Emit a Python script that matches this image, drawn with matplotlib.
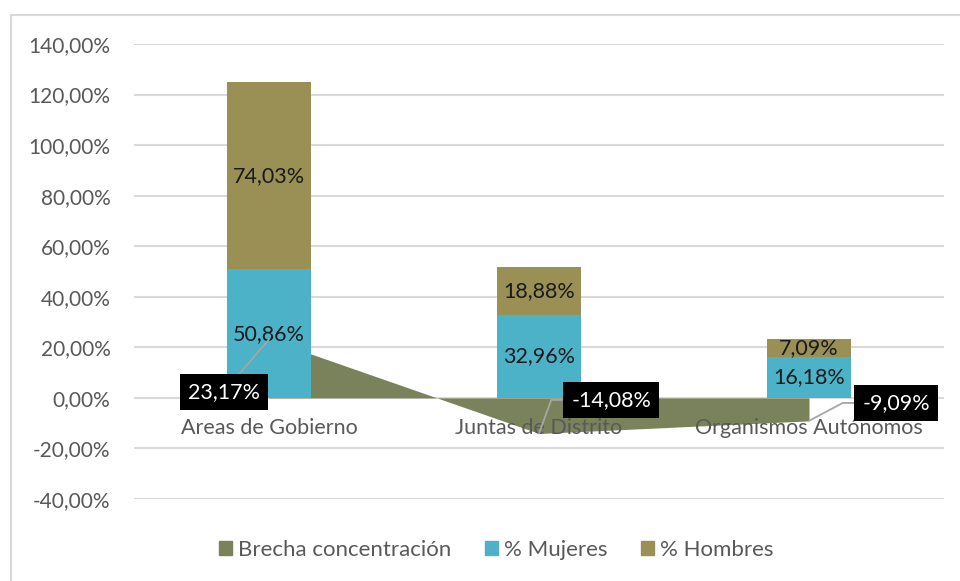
import matplotlib
matplotlib.use("Agg")
import matplotlib.pyplot as plt
from matplotlib.patches import Rectangle, Patch
from matplotlib.ticker import FuncFormatter, MultipleLocator
from matplotlib.transforms import ScaledTranslation

categories = ["Areas de Gobierno", "Juntas de Distrito", "Organismos Autónomos"]
mujeres = [50.86, 32.96, 16.18]
hombres = [74.03, 18.88, 7.09]
brecha = [23.17, -14.08, -9.09]

C_H = "#9A8F55"
C_M = "#4BB2C8"
C_B = "#79825A"
GRID = "#D9D9D9"
TXT = "#595959"
FONT = "Lato"

plt.rcParams['font.family'] = [FONT, 'DejaVu Sans']

W, H = 960, 581
fig = plt.figure(figsize=(W/100, H/100), dpi=100)
fig.patch.set_facecolor("white")

# outer border
fig.add_artist(Rectangle((11/W, -0.1), 1.2, (H-15)/H + 0.1, transform=fig.transFigure,
                         fill=False, edgecolor=GRID, linewidth=1.5))

ax = fig.add_axes([134/W, (H-499)/H, (944-134)/W, (499-44)/H])
ax.set_xlim(-0.5, 2.5)
ax.set_ylim(-40, 140)
for s in ax.spines.values():
    s.set_visible(False)
ax.yaxis.set_major_locator(MultipleLocator(20))
ax.yaxis.set_major_formatter(FuncFormatter(lambda v, p: f"{v:.2f}%".replace(".", ",")))
ax.tick_params(axis="y", length=0, pad=17, labelsize=15, labelcolor=TXT)
ax.set_xticks([])
ax.grid(axis="y", color=GRID, linewidth=1.5, zorder=0)
ax.set_axisbelow(True)

x = list(range(len(categories)))
ax.fill_between(x, brecha, 0, color=C_B, linewidth=0, zorder=2)

bw = 0.313
ax.bar(x, mujeres, width=bw, color=C_M, zorder=3)
ax.bar(x, hombres, width=bw, bottom=mujeres, color=C_H, zorder=3)

for i in x:
    ax.text(i, mujeres[i] / 2, f"{mujeres[i]:.2f}%".replace(".", ","), ha="center", va="center",
            fontsize=15.5, color="#1a1a1a", zorder=5)
    ax.text(i, mujeres[i] + hombres[i] / 2, f"{hombres[i]:.2f}%".replace(".", ","), ha="center",
            va="center", fontsize=15.5, color="#1a1a1a", zorder=5)

# category labels at zero line
off = ScaledTranslation(0, -20/100, fig.dpi_scale_trans)
for i, c in enumerate(categories):
    ax.text(i, 0, c, ha="center", va="top", fontsize=15.5, color=TXT,
            transform=ax.transData + off, zorder=6)

# brecha labels
offsets = [(-0.167, 2.4), (0.267, -0.8), (0.322, -2.0)]
conns = ["arc3", "angle,angleA=0,angleB=70,rad=0", "angle,angleA=0,angleB=28,rad=0"]
for i, (dx, dy) in enumerate(offsets):
    ax.annotate(f"{brecha[i]:.2f}%".replace(".", ","), xy=(i, brecha[i]),
                xytext=(i + dx, dy), textcoords="data", ha="center", va="center",
                fontsize=15.5, color="white", zorder=7,
                bbox=dict(boxstyle="square,pad=0.38", facecolor="black", edgecolor="none"),
                arrowprops=dict(arrowstyle="-", color="#A6A6A6", linewidth=1.3,
                                shrinkA=0, shrinkB=0, connectionstyle=conns[i]))

handles = [Patch(color=C_B), Patch(color=C_M), Patch(color=C_H)]
leg = fig.legend(handles, ["Brecha concentración", "% Mujeres", "% Hombres"],
                 loc="center", bbox_to_anchor=(496/W, 31/H), ncol=3, frameon=False,
                 fontsize=16, handlelength=0.59, handleheight=0.59, handletextpad=0.27,
                 columnspacing=1.5)
for t in leg.get_texts():
    t.set_color(TXT)

fig.savefig("out.png", dpi=100, facecolor="white")
